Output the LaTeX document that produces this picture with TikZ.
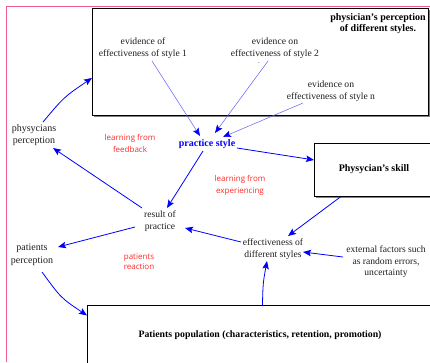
\documentclass[tikz,border=0pt]{standalone}
\usepackage{fontspec}
\setmainfont{Liberation Serif}
\newfontfamily\redfont{Open Sans}
\usetikzlibrary{arrows.meta,calc,shadows}
\definecolor{framecol}{RGB}{236,92,140}
\definecolor{ablue}{RGB}{0,0,255}
\definecolor{lblue}{RGB}{95,95,255}
\definecolor{redtxt}{RGB}{255,40,40}
\definecolor{txtcol}{RGB}{30,30,30}
\begin{document}
\begin{tikzpicture}[x=1pt,y=-1pt,
  tbox/.style={draw=black, line width=0.9pt, fill=white, inner sep=0pt,
    drop shadow={shadow xshift=1.1pt, shadow yshift=-1.1pt, fill=gray, opacity=1}},
  lbl/.style={align=center, inner sep=1pt, text=txtcol, font=\fontsize{9.6}{12}\selectfont},
  blbl/.style={align=center, inner sep=1pt, text=black, font=\fontsize{10}{11}\selectfont\bfseries},
  rlbl/.style={align=center, inner sep=1pt, text=redtxt, font=\redfont\fontsize{8}{12}\selectfont},
  arr/.style={draw=ablue, line width=0.8pt, -{Stealth[length=8pt,width=6.5pt,inset=1.5pt]}},
  thinarr/.style={draw=lblue, line width=0.5pt, -{Stealth[length=8pt,width=6.5pt,inset=1.5pt,color=ablue]}}
]
\useasboundingbox (0,0) rectangle (430,362);
% boxes
\node[tbox, minimum width=336pt, minimum height=107pt, anchor=north west] (topbox) at (92,8) {};
\node[tbox, minimum width=130pt, minimum height=53pt, anchor=north west] (skillbox) at (314,143) {};
\node[tbox, minimum width=360pt, minimum height=70pt, anchor=north west] (popbox) at (87,305) {};
% frame
\draw[framecol, line width=1pt] (6,362) -- (6,6.5) -- (430,6.5);
% texts
\node[blbl] (ttl) at (378,23.5) {physician's perception\\of different styles.};
\node[lbl] (ev1) at (143,48) {evidence of\\effectiveness of style 1};
\node[lbl] (ev2) at (275,48) {evidence on\\effectiveness of style 2};
\node[lbl, inner sep=0pt, font=\fontsize{7}{7}\selectfont] (dot) at (259,63) {.};
\node[lbl] (evn) at (331,91) {evidence on\\effectiveness of style n};
\node[blbl, text=ablue] (practice) at (207,144) {practice style};
\node[rlbl] (lff) at (130,143) {learning from\\feedback};
\node[lbl, font=\fontsize{10}{12}\selectfont] (physp) at (34,135) {physycians\\perception};
\node[blbl] (skill) at (374,169) {Physycian's skill};
\node[rlbl] (lfe) at (240,185) {learning from\\experiencing};
\node[lbl] (result) at (160,221) {result of\\practice};
\node[lbl, font=\fontsize{10}{13}\selectfont] (patp) at (32,255) {patients\\perception};
\node[rlbl, font=\redfont\fontsize{8}{10}\selectfont] (reaction) at (139,262) {patients\\reaction};
\node[lbl] (eff) at (273,249) {effectiveness of\\different styles};
\node[lbl, font=\fontsize{9.6}{11.5}\selectfont] (ext) at (386,262) {external factors such\\as random errors,\\uncertainty};
\node[blbl, font=\fontsize{9.8}{11}\selectfont\bfseries] (pop) at (260,335) {Patients population (characteristics, retention, promotion)};
% connectors
\draw[thinarr] ($(ev1)+(9,13)$) -- ($(practice)+(-7,-8)$);
\draw[thinarr] ($(ev2)+(-7,13)$) -- ($(practice)+(8,-11)$);
\draw[thinarr] ($(evn)+(-28,12)$) -- ($(practice)+(16,-7)$);
\draw[arr] ($(practice)+(30,4)$) -- ($(skillbox.west)+(0,-10)$);
\draw[arr] ($(practice)+(-4,7)$) -- ($(result)+(7,-13)$);
\draw[arr] ($(result)+(-18,-13)$) -- ($(physp)+(19,13)$);
\draw[arr] ($(physp)+(9,-13)$) .. controls (64,97) .. ($(topbox.west)+(0,16)$);
\draw[arr] ($(result)+(-25,6)$) -- ($(patp)+(26,-8)$);
\draw[arr] ($(patp)+(10,17)$) .. controls (61,298) .. ($(popbox.west)+(0,-25)$);
\draw[arr] ($(eff)+(-32,-7)$) -- ($(result)+(25,7)$);
\draw[arr] ($(skillbox.south)+(-39,0)$) -- ($(eff)+(15,-13)$);
\draw[arr] ($(ext)+(-43,-5)$) -- ($(eff)+(30,3)$);
\draw[arr] ($(popbox.north)+(-5,0)$) .. controls (263,283) .. ($(eff)+(-6,12)$);
\end{tikzpicture}
\end{document}
